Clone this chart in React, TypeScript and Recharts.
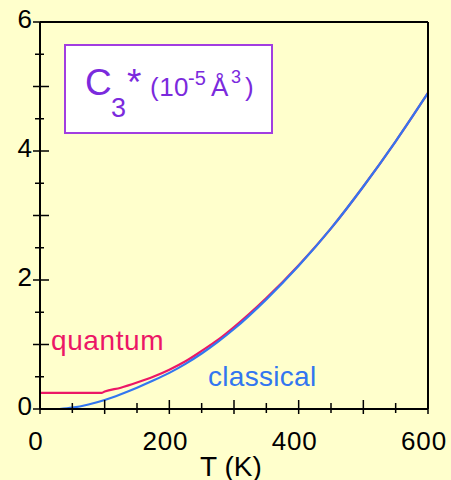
import { LineChart, Line, XAxis, YAxis } from 'recharts';

// temperature grid (K) and C3* values (10^-5 Å^3)
const quantumT = [0, 50, 95, 100, 125, 150, 175, 200, 225, 250, 275, 300, 350, 400, 450, 500, 550, 600];
const quantumC = [0.25, 0.25, 0.25, 0.27, 0.33, 0.41, 0.5, 0.61, 0.74, 0.9, 1.07, 1.27, 1.72, 2.23, 2.8, 3.45, 4.15, 4.9];
const classicalT = [30, 50, 75, 100, 125, 150, 175, 200, 225, 250, 275, 300, 350, 400, 450, 500, 550, 600];
const classicalC = [0, 0.02, 0.07, 0.14, 0.23, 0.33, 0.44, 0.56, 0.7, 0.86, 1.04, 1.24, 1.7, 2.22, 2.8, 3.45, 4.15, 4.9];

const xTicks = [0, 50, 100, 150, 200, 250, 300, 350, 400, 450, 500, 550, 600];
const xLabels = [0, 200, 400, 600];
const yTicks = [0, 0.5, 1, 1.5, 2, 2.5, 3, 3.5, 4, 4.5, 5, 5.5, 6];
const yLabels = [0, 2, 4, 6];

const quantumData = quantumT.map((t, i) => ({ t, c: quantumC[i] }));
const classicalData = classicalT.map((t, i) => ({ t, c: classicalC[i] }));

const FONT = '"Liberation Sans", Arial, sans-serif';
const BG = '#ffffcc';
const PURPLE = '#7b2add';
const PINK = '#ec1766';
const BLUE = '#3276f0';

const BottomTick = ({ x, y, payload }: any) => {
  const v = payload.value;
  const major = v % 100 === 0;
  return (
    <g>
      <line x1={x} x2={x} y1={y - (major ? 9 : 6)} y2={y + (major ? 5 : 4)} stroke="#000" strokeWidth={1.5} />
      {xLabels.includes(v) && (
        <text x={x - 4} y={y + 41} textAnchor="middle" fontSize={26} letterSpacing={0.8} fontFamily={FONT} fill="#000">
          {v}
        </text>
      )}
    </g>
  );
};

const TopTick = ({ x, y, payload }: any) => {
  const major = payload.value % 100 === 0;
  return <line x1={x} x2={x} y1={y - (major ? 6 : 5)} y2={y + (major ? 10 : 4)} stroke="#000" strokeWidth={1.5} />;
};

const LeftTick = ({ x, y, payload }: any) => {
  const v = payload.value;
  const major = v % 1 === 0;
  return (
    <g>
      <line x1={x - (major ? 7 : 5)} x2={x + (major ? 9 : 4)} y1={y} y2={y} stroke="#000" strokeWidth={1.5} />
      {yLabels.includes(v) && (
        <text x={x - 8} y={y + 6} textAnchor="end" fontSize={26} fontFamily={FONT} fill="#000">
          {v}
        </text>
      )}
    </g>
  );
};

const RightTick = ({ x, y, payload }: any) => {
  const major = payload.value % 1 === 0;
  return <line x1={x - (major ? 10 : 5)} x2={x + (major ? 5 : 4)} y1={y} y2={y} stroke="#000" strokeWidth={1.5} />;
};

export default function App() {
  return (
    <div style={{ position: 'absolute', left: 0, top: 0, width: 451, height: 480, background: BG, overflow: 'hidden' }}>
      <LineChart
        width={451}
        height={480}
        margin={{ top: 21, right: 22, bottom: 0, left: 0 }}
        style={{ background: BG }}
      >
        <XAxis
          dataKey="t"
          type="number"
          domain={[0, 600]}
          ticks={xTicks}
          interval={0}
          height={71}
          tickSize={0}
          tickMargin={0}
          tickLine={false}
          axisLine={{ stroke: '#000', strokeWidth: 2 }}
          tick={<BottomTick />}
          allowDuplicatedCategory={false}
        />
        <XAxis
          xAxisId="top"
          orientation="top"
          dataKey="t"
          type="number"
          domain={[0, 600]}
          ticks={xTicks}
          interval={0}
          height={1}
          tickSize={0}
          tickMargin={0}
          tickLine={false}
          axisLine={{ stroke: '#000', strokeWidth: 2 }}
          tick={<TopTick />}
        />
        <YAxis
          type="number"
          domain={[0, 6]}
          ticks={yTicks}
          interval={0}
          width={40}
          tickSize={0}
          tickMargin={0}
          tickLine={false}
          axisLine={{ stroke: '#000', strokeWidth: 2 }}
          tick={<LeftTick />}
        />
        <YAxis
          yAxisId="right"
          orientation="right"
          type="number"
          domain={[0, 6]}
          ticks={yTicks}
          interval={0}
          width={1}
          tickSize={0}
          tickMargin={0}
          tickLine={false}
          axisLine={{ stroke: '#000', strokeWidth: 2 }}
          tick={<RightTick />}
        />
        <Line
          data={quantumData}
          dataKey="c"
          type="monotone"
          stroke={PINK}
          strokeWidth={2.2}
          dot={false}
          isAnimationActive={false}
        />
        <Line
          data={classicalData}
          dataKey="c"
          type="monotone"
          stroke={BLUE}
          strokeWidth={2.2}
          dot={false}
          isAnimationActive={false}
        />
      </LineChart>
      <svg
        width={451}
        height={480}
        style={{ position: 'absolute', left: 0, top: 0, pointerEvents: 'none' }}
        fontFamily={FONT}
      >
        <rect x={65} y={45} width={207} height={88} fill="#fff" stroke="#a23ee0" strokeWidth={2} />
        <g fill={PURPLE}>
          <text x={85} y={95} fontSize={37}>C</text>
          <text x={111} y={117} fontSize={27}>3</text>
          <text x={127} y={95} fontSize={37}>*</text>
          <text x={150} y={96} fontSize={26} letterSpacing={0.5}>(10</text>
          <text x={188} y={85} fontSize={20}>-5</text>
          <text x={211} y={96} fontSize={26}>Å</text>
          <text x={231} y={83} fontSize={18}>3</text>
          <text x={245} y={96} fontSize={26}>)</text>
        </g>
        <text x={51} y={350} fontSize={28} letterSpacing={0.6} fill={PINK}>quantum</text>
        <text x={208} y={386} fontSize={28} letterSpacing={0.3} fill={BLUE}>classical</text>
        <text x={200} y={476} fontSize={28} fill="#000">T (K)</text>
      </svg>
    </div>
  );
}
